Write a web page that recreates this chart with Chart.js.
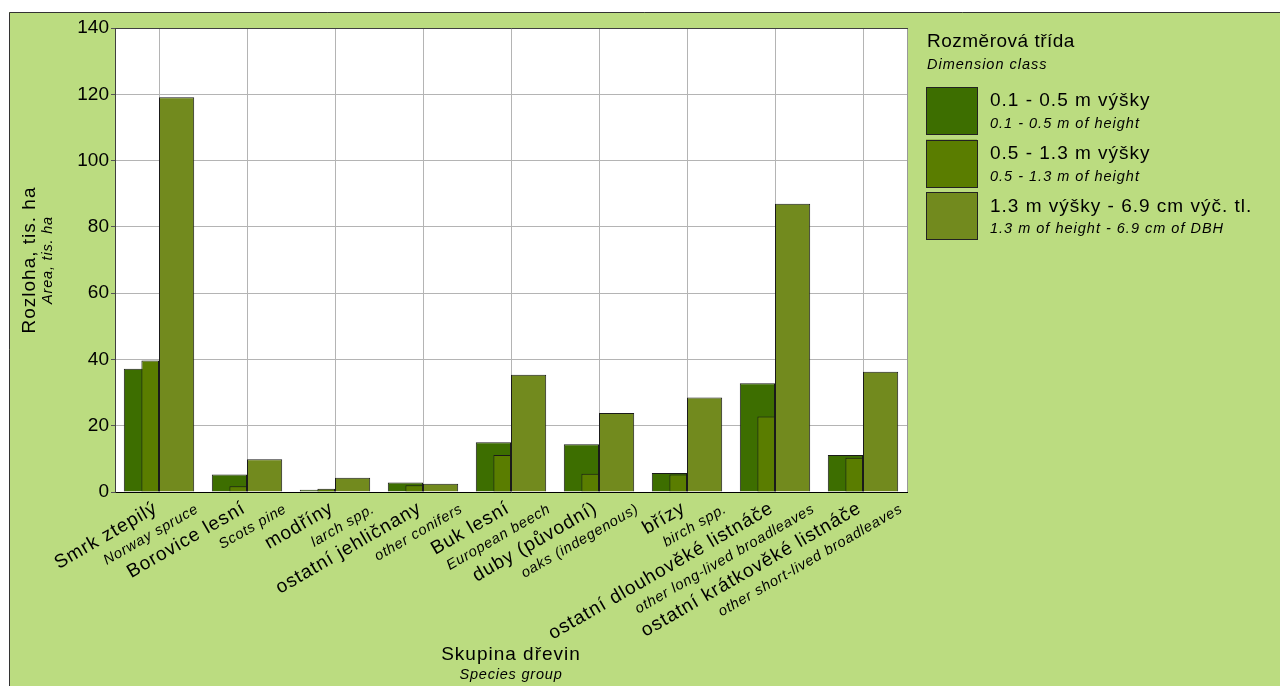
<!DOCTYPE html>
<html>
<head>
<meta charset="utf-8">
<script src="https://cdn.jsdelivr.net/npm/chart.js@4.4.1/dist/chart.umd.min.js"></script>
<style>
  html, body { margin: 0; padding: 0; background: #fff; }
  #wrap { width: 1280px; height: 686px; }
</style>
</head>
<body>
<div id="wrap"><canvas id="chart" width="1280" height="686"></canvas></div>
<script>
// kategorie (česky + anglicky)
const categories = ["Smrk ztepilý", "Borovice lesní", "modříny", "ostatní jehličnany", "Buk lesní",
  "duby (původní)", "břízy", "ostatní dlouhověké listnáče", "ostatní krátkověké listnáče"];
const categoriesEn = ["Norway spruce", "Scots pine", "larch spp.", "other conifers", "European beech",
  "oaks (indegenous)", "birch spp.", "other long-lived broadleaves", "other short-lived broadleaves"];

// rozměrové třídy
const seriesNames = ["0.1 - 0.5 m výšky", "0.5 - 1.3 m výšky", "1.3 m výšky - 6.9 cm výč. tl."];
const seriesNamesEn = ["0.1 - 0.5 m of height", "0.5 - 1.3 m of height", "1.3 m of height - 6.9 cm of DBH"];

// hodnoty (tis. ha)
const small = [37.2, 5.3, 0.7, 2.9, 15.0, 14.4, 5.7, 32.8, 11.2];
const medium = [39.7, 1.7, 1.0, 2.0, 11.2, 5.5, 5.3, 22.8, 10.3];
const large = [119.1, 9.9, 4.3, 2.5, 35.4, 23.8, 28.5, 87.0, 36.3];

const yMax = 140;
const yStep = 20;

const colors = ["#3d6e00", "#5a7d00", "#728a1e"];
const FONT = "'Liberation Sans', Arial, sans-serif";

const drawText = (ctx, text, x, y, font, spacing, align, angle) => {
  ctx.save();
  ctx.translate(x, y);
  if (angle) ctx.rotate(angle);
  ctx.font = font;
  ctx.letterSpacing = spacing + "px";
  ctx.fillStyle = "#000";
  ctx.textAlign = align;
  ctx.textBaseline = "middle";
  ctx.fillText(text, 0, 0);
  ctx.restore();
};

// pozadí, rám a bílá plocha grafu
const framePlugin = {
  id: "frame",
  beforeDraw(chart) {
    const { ctx, chartArea } = chart;
    ctx.save();
    ctx.fillStyle = "#ffffff";
    ctx.fillRect(0, 0, chart.width, chart.height);
    ctx.fillStyle = "#bbdc80";
    ctx.fillRect(9, 12, chart.width - 9, chart.height - 12);
    ctx.strokeStyle = "#333";
    ctx.lineWidth = 1;
    ctx.beginPath();
    ctx.moveTo(9.5, chart.height);
    ctx.lineTo(9.5, 12.5);
    ctx.lineTo(chart.width, 12.5);
    ctx.stroke();
    ctx.fillStyle = "#ffffff";
    ctx.fillRect(chartArea.left, chartArea.top, chartArea.right - chartArea.left, chartArea.bottom - chartArea.top);
    ctx.restore();
  },
  // druhá třída leží v pravé polovině první
  afterDatasetsUpdate(chart) {
    const meta = chart.getDatasetMeta(1);
    meta.data.forEach((bar) => {
      bar.x -= bar.width / 2;
    });
  },
  afterDatasetsDraw(chart) {
    const { ctx, chartArea } = chart;
    ctx.save();
    ctx.lineWidth = 1;
    ctx.strokeStyle = "#999";
    ctx.beginPath();
    ctx.moveTo(chartArea.right + 0.5, chartArea.top);
    ctx.lineTo(chartArea.right + 0.5, chartArea.bottom);
    ctx.stroke();
    ctx.strokeStyle = "#404040";
    ctx.beginPath();
    ctx.moveTo(chartArea.left, chartArea.top + 0.5);
    ctx.lineTo(chartArea.right + 1, chartArea.top + 0.5);
    ctx.stroke();
    ctx.restore();
  },
  afterDraw(chart) {
    const { ctx, chartArea } = chart;
    const xScale = chart.scales.x;
    const rot = -Math.PI / 6;

    // popisky kategorií
    categories.forEach((name, i) => {
      const c = xScale.getPixelForValue(i);
      drawText(ctx, name, c - 3, 507, "19px " + FONT, 1, "right", rot);
      drawText(ctx, categoriesEn[i], c + 38.5, 508, "italic 14.5px " + FONT, 0.8, "right", rot);
    });

    // název osy y
    const midY = (chartArea.top + chartArea.bottom) / 2;
    drawText(ctx, "Rozloha, tis. ha", 30, midY, "19px " + FONT, 1, "center", -Math.PI / 2);
    drawText(ctx, "Area, tis. ha", 47.5, midY, "italic 14.5px " + FONT, 0.8, "center", -Math.PI / 2);

    // název osy x
    const midX = (chartArea.left + chartArea.right) / 2;
    drawText(ctx, "Skupina dřevin", midX, 655, "19px " + FONT, 1, "center", 0);
    drawText(ctx, "Species group", midX, 675, "italic 14.5px " + FONT, 0.8, "center", 0);

    // legenda
    drawText(ctx, "Rozměrová třída", 927, 42, "19px " + FONT, 0.5, "left", 0);
    drawText(ctx, "Dimension class", 927, 65, "italic 14.5px " + FONT, 1, "left", 0);
    seriesNames.forEach((name, i) => {
      const top = 87 + i * 52.7;
      ctx.save();
      ctx.fillStyle = colors[i];
      ctx.fillRect(926, top, 51, 47.5);
      ctx.strokeStyle = "#222";
      ctx.lineWidth = 1;
      ctx.strokeRect(926.5, Math.round(top) + 0.5, 51, 47);
      ctx.restore();
      drawText(ctx, name, 990, top + 14, "19px " + FONT, 1, "left", 0);
      drawText(ctx, seriesNamesEn[i], 990, top + 37, "italic 14.5px " + FONT, 1, "left", 0);
    });
  },
};

const ctx = document.getElementById("chart").getContext("2d");

new Chart(ctx, {
  type: "bar",
  data: {
    labels: categories,
    datasets: [
      {
        label: seriesNames[0],
        data: small,
        backgroundColor: colors[0],
        borderColor: "#1a1a1a",
        borderWidth: 1,
        stack: "a",
        order: 1,
        categoryPercentage: 0.8,
        barPercentage: 1.0,
      },
      {
        label: seriesNames[1],
        data: medium,
        backgroundColor: colors[1],
        borderColor: "#1a1a1a",
        borderWidth: 1,
        grouped: false,
        order: 0,
        categoryPercentage: 0.8,
        barPercentage: 0.25,
      },
      {
        label: seriesNames[2],
        data: large,
        backgroundColor: colors[2],
        borderColor: "#1a1a1a",
        borderWidth: 1,
        stack: "b",
        order: 1,
        categoryPercentage: 0.8,
        barPercentage: 1.0,
      },
    ],
  },
  options: {
    responsive: false,
    animation: false,
    layout: {
      padding: { top: 28, left: 0, right: 373, bottom: 0 },
    },
    plugins: {
      legend: { display: false },
      tooltip: { enabled: false },
    },
    scales: {
      x: {
        grid: {
          offset: false,
          color: "#b4b4b4",
          drawTicks: false,
        },
        border: { color: "#000" },
        ticks: { display: false },
        afterFit: (scale) => {
          scale.height = 194;
        },
      },
      y: {
        stacked: false,
        min: 0,
        max: yMax,
        ticks: {
          stepSize: yStep,
          color: "#000",
          padding: 2,
          font: { family: FONT, size: 19 },
        },
        grid: {
          color: "#b4b4b4",
          tickLength: 4,
          tickColor: "#555",
        },
        border: { color: "#404040" },
        afterFit: (scale) => {
          scale.width = 115;
        },
      },
    },
  },
  plugins: [framePlugin],
});
</script>
</body>
</html>
